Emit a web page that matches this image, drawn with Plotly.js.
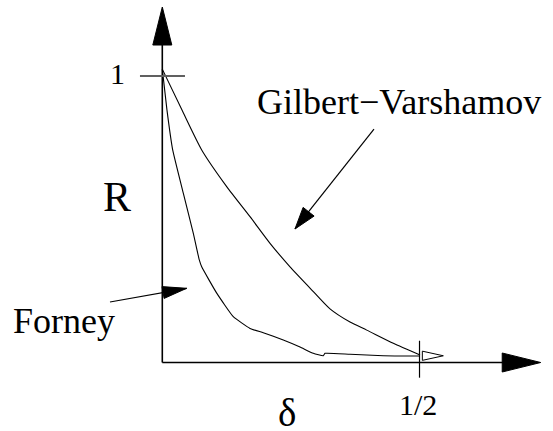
<!DOCTYPE html>
<html><head><meta charset="utf-8">
<script src="https://cdn.plot.ly/plotly-3.0.1.min.js"></script>
<style>html,body{margin:0;padding:0;background:#fff;overflow:hidden}#chart{width:553px;height:431px}</style>
</head><body><div id="chart"></div><script>
// ---- data ----
const gvDelta = [0, 0.0383, 0.0766, 0.1252, 0.1705, 0.2094, 0.2483, 0.2871, 0.3260, 0.3649, 0.3974, 0.4491, 0.5010];
const gvRate  = [1.024, 0.881, 0.742, 0.614, 0.509, 0.416, 0.334, 0.260, 0.187, 0.141, 0.113, 0.067, 0.026];
const forneyDelta = [0, 0.0091, 0.0202, 0.0408, 0.0603, 0.0719, 0.0766, 0.1058, 0.1380, 0.1705, 0.1963, 0.2352, 0.2677, 0.2935, 0.3130, 0.3163, 0.3649, 0.4296, 0.5000];
const forneyRate  = [1.024, 0.881, 0.742, 0.591, 0.451, 0.358, 0.334, 0.242, 0.160, 0.119, 0.104, 0.0785, 0.0541, 0.0321, 0.0237, 0.0321, 0.0286, 0.0237, 0.0227];
const tickValuesR = [1];
const tickLabelsR = ['1'];
const tickValuesDelta = [0.5];
const tickLabelsDelta = ['1/2'];
const axisTitleX = 'δ';
const axisTitleY = 'R';
const curveNames = ['Gilbert−Varshamov', 'Forney'];

// ---- layout geometry ----
const W = 553, H = 431;
const xr = [-0.3155, 0.7595], yr = [-0.2391, 1.2653];
const sx = W / (xr[1] - xr[0]), sy = H / (yr[1] - yr[0]);
const toPx = (d, r) => [(d - xr[0]) * sx, (yr[1] - r) * sy];
const toData = (X, Y) => [X / sx + xr[0], yr[1] - Y / sy];

function headPath(tip, from, len, halfW) {
  const [tx, ty] = toPx(tip[0], tip[1]);
  const [fx, fy] = toPx(from[0], from[1]);
  let ux = tx - fx, uy = ty - fy; const L = Math.hypot(ux, uy); ux /= L; uy /= L;
  const bx = tx - ux * len, by = ty - uy * len;
  const nx = -uy, ny = ux;
  const p1 = toData(bx + nx * halfW, by + ny * halfW);
  const p2 = toData(bx - nx * halfW, by - ny * halfW);
  return `M${tip[0]},${tip[1]} L${p1[0]},${p1[1]} L${p2[0]},${p2[1]} Z`;
}
const black = '#000';
const shapes = [];
const line = (x0, y0, x1, y1, w, c) => shapes.push({type:'line', xref:'x', yref:'y', x0, y0, x1, y1, line:{color:c||black, width:w||1}});
const fillPath = (path) => shapes.push({type:'path', xref:'x', yref:'y', path, fillcolor:black, line:{color:black, width:1}});

// axes
const yTip = 1.2408, xTip = 0.7356;
line(0, 0, 0, yTip - 0.05, 1.6);
line(0, 0, xTip - 0.05, 0, 1.6);
fillPath(headPath([0, yTip], [0, 0], 38, 9.5));
fillPath(headPath([xTip, 0], [0, 0], 38.5, 9.5));
// ticks
tickValuesR.forEach(v => line(-0.0434, v, 0.0441, v, 2, '#606060'));
tickValuesDelta.forEach(v => line(v, -0.053, v, 0.076, 1.2));
// small open arrowhead at delta = 1/2
shapes.push({type:'path', xref:'x', yref:'y', path: headPath([0.5463, 0.0235], [0.5049, 0.0235], 21, 4.6), line:{color:black, width:1}});
// label arrows
const gvTail = [0.4115, 0.815], gvTip = [0.2579, 0.466];
const fTail = [-0.1017, 0.2112], fTip = [0.0474, 0.259];
line(gvTail[0], gvTail[1], gvTip[0], gvTip[1], 1.2);
fillPath(headPath(gvTip, gvTail, 22, 7));
line(fTail[0], fTail[1], fTip[0], fTip[1], 1.2);
fillPath(headPath(fTip, fTail, 24, 6));

const serif = 'Liberation Serif';
const ann = (text, x, y, size) => ({text, x, y, xref:'x', yref:'y', xanchor:'center', yanchor:'middle', showarrow:false, font:{family:serif, size, color:black}});
const annotations = [
  ann(curveNames[0], 0.460, 0.911, 36),
  ann(curveNames[1], -0.192, 0.1466, 36),
  ann(axisTitleY, -0.0881, 0.576, 42),
  ann(axisTitleX, 0.2424, -0.176, 39),
  ann(tickLabelsR[0], -0.0871, 1.0087, 30),
  ann(tickLabelsDelta[0], 0.4961, -0.1449, 30)
];

const traces = [
  {x: gvDelta, y: gvRate, mode:'lines', line:{color:black, width:1.1, shape:'spline', smoothing:0.6}, name: curveNames[0]},
  {x: forneyDelta, y: forneyRate, mode:'lines', line:{color:black, width:1.1, shape:'spline', smoothing:0.4}, name: curveNames[1]}
];
const layout = {
  width: W, height: H, margin:{l:0, r:0, t:0, b:0},
  paper_bgcolor:'#fff', plot_bgcolor:'#fff', showlegend:false,
  font:{family:serif},
  xaxis:{range:xr, visible:false, fixedrange:true},
  yaxis:{range:yr, visible:false, fixedrange:true},
  shapes, annotations, hovermode:false
};
Plotly.newPlot('chart', traces, layout, {displayModeBar:false, staticPlot:true});
</script></body></html>
